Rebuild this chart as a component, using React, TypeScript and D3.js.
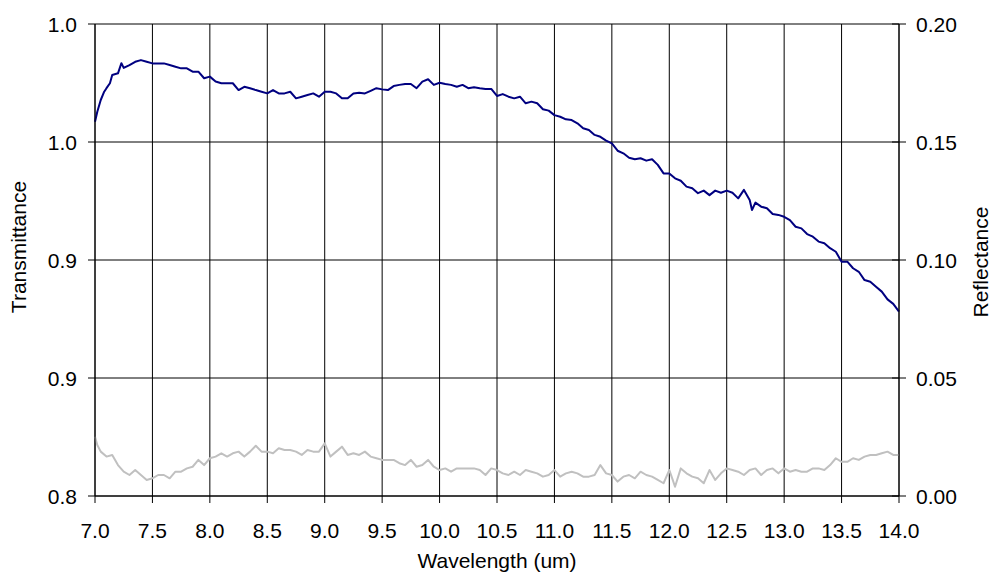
import React from "react";
import * as d3 from "d3";

const xTicks = [7.0, 7.5, 8.0, 8.5, 9.0, 9.5, 10.0, 10.5, 11.0, 11.5, 12.0, 12.5, 13.0, 13.5, 14.0];
const xTickLabels = ["7.0", "7.5", "8.0", "8.5", "9.0", "9.5", "10.0", "10.5", "11.0", "11.5", "12.0", "12.5", "13.0", "13.5", "14.0"];
const leftTicks = [0.8, 0.85, 0.9, 0.95, 1.0];
const leftTickLabels = ["0.8", "0.9", "0.9", "1.0", "1.0"];
const rightTicks = [0.0, 0.05, 0.1, 0.15, 0.2];
const rightTickLabels = ["0.00", "0.05", "0.10", "0.15", "0.20"];

const transWl = [
  7.0, 7.02, 7.05, 7.08, 7.1, 7.13, 7.15, 7.2, 7.23, 7.25, 7.3, 7.35, 7.4, 7.45, 7.5, 7.55, 7.6, 7.65, 7.7, 7.75,
  7.8, 7.85, 7.9, 7.95, 8.0, 8.05, 8.1, 8.15, 8.2, 8.25, 8.3, 8.35, 8.4, 8.45, 8.5, 8.55, 8.6, 8.65, 8.7, 8.75,
  8.8, 8.85, 8.9, 8.95, 9.0, 9.05, 9.1, 9.15, 9.2, 9.25, 9.3, 9.35, 9.4, 9.45, 9.5, 9.55, 9.6, 9.65, 9.7, 9.75,
  9.8, 9.85, 9.9, 9.95, 10.0, 10.05, 10.1, 10.15, 10.2, 10.25, 10.3, 10.35, 10.4, 10.45, 10.5, 10.55, 10.6, 10.65,
  10.7, 10.75, 10.8, 10.85, 10.9, 10.95, 11.0, 11.05, 11.1, 11.15, 11.2, 11.25, 11.3, 11.35, 11.4, 11.45, 11.5,
  11.55, 11.6, 11.65, 11.7, 11.75, 11.8, 11.85, 11.9, 11.95, 12.0, 12.05, 12.1, 12.15, 12.2, 12.25, 12.3, 12.35,
  12.4, 12.45, 12.5, 12.55, 12.6, 12.65, 12.7, 12.72, 12.75, 12.8, 12.85, 12.9, 12.95, 13.0, 13.05, 13.1, 13.15,
  13.2, 13.25, 13.3, 13.35, 13.4, 13.45, 13.5, 13.55, 13.6, 13.65, 13.7, 13.75, 13.8, 13.85, 13.9, 13.95, 14.0,
];
const transmittance = [
  0.9586, 0.9628, 0.9678, 0.9713, 0.9728, 0.9749, 0.9784, 0.9791, 0.9834, 0.9814, 0.9826, 0.984, 0.9847, 0.984,
  0.9833, 0.9833, 0.9833, 0.9826, 0.9819, 0.9812, 0.9812, 0.9798, 0.9798, 0.977, 0.9777, 0.9756, 0.9749, 0.9749,
  0.9749, 0.972, 0.9734, 0.9728, 0.972, 0.9713, 0.9706, 0.972, 0.9706, 0.9706, 0.9713, 0.9685, 0.9692, 0.9699,
  0.9706, 0.9692, 0.9713, 0.9713, 0.9706, 0.9685, 0.9685, 0.9706, 0.9709, 0.9706, 0.9717, 0.9728, 0.9723, 0.972,
  0.9737, 0.9742, 0.9746, 0.9746, 0.9728, 0.9756, 0.9766, 0.9742, 0.9751, 0.9746, 0.9742, 0.9734, 0.9742, 0.9728,
  0.9732, 0.9728, 0.9725, 0.9725, 0.9695, 0.9703, 0.9692, 0.9685, 0.9692, 0.9664, 0.9671, 0.9664, 0.9639, 0.9633,
  0.9614, 0.9607, 0.9596, 0.9593, 0.9579, 0.9558, 0.9551, 0.953, 0.9522, 0.9506, 0.9494, 0.9463, 0.9452, 0.9433,
  0.9427, 0.9431, 0.9421, 0.9427, 0.9403, 0.9367, 0.9367, 0.9346, 0.9336, 0.9311, 0.9304, 0.9283, 0.9294, 0.9275,
  0.9294, 0.9285, 0.9294, 0.9285, 0.9261, 0.9297, 0.9254, 0.9212, 0.9243, 0.9226, 0.9219, 0.9195, 0.9191, 0.9183,
  0.9169, 0.9141, 0.9134, 0.911, 0.9099, 0.9078, 0.9071, 0.905, 0.9035, 0.8993, 0.8993, 0.8965, 0.895, 0.8915,
  0.8908, 0.8887, 0.8866, 0.8833, 0.8814, 0.8781,
];

const reflWl = [
  7.0, 7.02, 7.05, 7.1, 7.15, 7.2, 7.25, 7.3, 7.35, 7.4, 7.45, 7.5, 7.55, 7.6, 7.65, 7.7, 7.75, 7.8, 7.85, 7.9,
  7.95, 8.0, 8.05, 8.1, 8.15, 8.2, 8.25, 8.3, 8.35, 8.4, 8.45, 8.5, 8.55, 8.6, 8.65, 8.7, 8.75, 8.8, 8.85, 8.9,
  8.95, 9.0, 9.05, 9.1, 9.15, 9.2, 9.25, 9.3, 9.35, 9.4, 9.45, 9.5, 9.55, 9.6, 9.65, 9.7, 9.75, 9.8, 9.85, 9.9,
  9.95, 10.0, 10.05, 10.1, 10.15, 10.2, 10.25, 10.3, 10.35, 10.4, 10.45, 10.5, 10.55, 10.6, 10.65, 10.7, 10.75,
  10.8, 10.85, 10.9, 10.95, 11.0, 11.05, 11.1, 11.15, 11.2, 11.25, 11.3, 11.35, 11.4, 11.45, 11.5, 11.55, 11.6,
  11.65, 11.7, 11.75, 11.8, 11.85, 11.9, 11.95, 12.0, 12.03, 12.05, 12.1, 12.15, 12.2, 12.25, 12.3, 12.35, 12.4,
  12.45, 12.5, 12.55, 12.6, 12.65, 12.7, 12.75, 12.8, 12.85, 12.9, 12.95, 13.0, 13.05, 13.1, 13.15, 13.2, 13.25,
  13.3, 13.35, 13.4, 13.45, 13.5, 13.55, 13.6, 13.65, 13.7, 13.75, 13.8, 13.85, 13.9, 13.95, 14.0,
];
const reflectance = [
  0.0251, 0.0216, 0.0188, 0.0167, 0.0174, 0.0131, 0.0103, 0.0089, 0.011, 0.0089, 0.0068, 0.0075, 0.0089, 0.0089,
  0.0075, 0.0103, 0.0103, 0.0117, 0.0124, 0.0153, 0.0131, 0.016, 0.0167, 0.0181, 0.0167, 0.0181, 0.0188, 0.0167,
  0.0188, 0.0213, 0.0188, 0.0188, 0.0181, 0.0202, 0.0195, 0.0195, 0.0188, 0.0174, 0.0195, 0.0188, 0.0188, 0.0223,
  0.0167, 0.0188, 0.0209, 0.0174, 0.0181, 0.0174, 0.0188, 0.0167, 0.016, 0.0153, 0.0153, 0.0153, 0.0139, 0.0131,
  0.0153, 0.0124, 0.0131, 0.0153, 0.0124, 0.011, 0.0117, 0.0103, 0.0117, 0.0117, 0.0117, 0.0117, 0.011, 0.0089,
  0.0117, 0.011, 0.0096, 0.0089, 0.0103, 0.0089, 0.011, 0.0103, 0.0096, 0.0082, 0.0089, 0.011, 0.0082, 0.0096,
  0.0103, 0.0096, 0.0082, 0.0082, 0.0089, 0.0131, 0.0096, 0.0089, 0.0061, 0.0082, 0.0089, 0.0075, 0.0103, 0.0089,
  0.0082, 0.0068, 0.0054, 0.011, 0.0068, 0.0039, 0.0117, 0.0096, 0.0082, 0.0075, 0.0054, 0.011, 0.0068, 0.0096,
  0.0117, 0.011, 0.0103, 0.0089, 0.011, 0.0117, 0.0089, 0.011, 0.0117, 0.0096, 0.0117, 0.0103, 0.011, 0.0103,
  0.0103, 0.0117, 0.0117, 0.011, 0.0131, 0.016, 0.0145, 0.0145, 0.016, 0.0153, 0.0167, 0.0174, 0.0174, 0.0181,
  0.0188, 0.0174, 0.0174,
];

const W = 992;
const H = 578;
const L = 95;
const R = 899;
const T = 24;
const B = 496;
const FONT = "'Liberation Sans', Arial, sans-serif";
const FS = 21;

export default function App() {
  const x = d3.scaleLinear().domain([7, 14]).range([L, R]);
  const yL = d3.scaleLinear().domain([0.8, 1.0]).range([B, T]);
  const yR = d3.scaleLinear().domain([0, 0.2]).range([B, T]);

  const transLine = d3
    .line<number>()
    .x((_, i) => x(transWl[i]))
    .y((d) => yL(d))(transmittance) as string;
  const reflLine = d3
    .line<number>()
    .x((_, i) => x(reflWl[i]))
    .y((d) => yR(d))(reflectance) as string;

  return (
    <svg
      width={W}
      height={H}
      viewBox={`0 0 ${W} ${H}`}
      style={{ position: "absolute", left: 0, top: 0, display: "block", background: "#fff" }}
      fontFamily={FONT}
    >
      <rect x={0} y={0} width={W} height={H} fill="#fff" />
      {leftTicks.map((t, i) => (
        <line key={"hg" + i} x1={L} x2={R} y1={yL(t)} y2={yL(t)} stroke="#000" strokeWidth={1} />
      ))}
      {xTicks.map((t, i) => (
        <line key={"vg" + i} x1={x(t)} x2={x(t)} y1={T} y2={B} stroke="#000" strokeWidth={1} />
      ))}
      <path d={reflLine} fill="none" stroke="#c0c0c0" strokeWidth={2} strokeLinejoin="round" />
      <path d={transLine} fill="none" stroke="#000080" strokeWidth={2} strokeLinejoin="round" />
      <line x1={L} x2={L} y1={T} y2={B} stroke="#000" strokeWidth={1} />
      <line x1={R} x2={R} y1={T} y2={B} stroke="#000" strokeWidth={1} />
      <line x1={L} x2={R} y1={B} y2={B} stroke="#000" strokeWidth={1} />
      {leftTicks.map((t, i) => (
        <g key={"lt" + i}>
          <line x1={L - 7} x2={L} y1={yL(t)} y2={yL(t)} stroke="#000" strokeWidth={1} />
          <text x={77} y={yL(t)} dy="0.36em" textAnchor="end" fontSize={FS} fill="#000">
            {leftTickLabels[i]}
          </text>
        </g>
      ))}
      {rightTicks.map((t, i) => (
        <g key={"rt" + i}>
          <line x1={R - 7} x2={R + 7} y1={yR(t)} y2={yR(t)} stroke="#000" strokeWidth={1} />
          <text x={916} y={yR(t)} dy="0.36em" textAnchor="start" fontSize={FS} fill="#000">
            {rightTickLabels[i]}
          </text>
        </g>
      ))}
      {xTicks.map((t, i) => (
        <g key={"bt" + i}>
          <line x1={x(t)} x2={x(t)} y1={B} y2={B + 7} stroke="#000" strokeWidth={1} />
          <text x={x(t)} y={537.5} textAnchor="middle" fontSize={FS} fill="#000">
            {xTickLabels[i]}
          </text>
        </g>
      ))}
      <text x={497} y={568} textAnchor="middle" fontSize={FS} fill="#000">
        Wavelength (um)
      </text>
      <text
        transform={`translate(26, 247) rotate(-90)`}
        textAnchor="middle"
        fontSize={FS}
        fill="#000"
      >
        Transmittance
      </text>
      <text
        transform={`translate(988, 262) rotate(-90)`}
        textAnchor="middle"
        fontSize={FS}
        fill="#000"
      >
        Reflectance
      </text>
    </svg>
  );
}
